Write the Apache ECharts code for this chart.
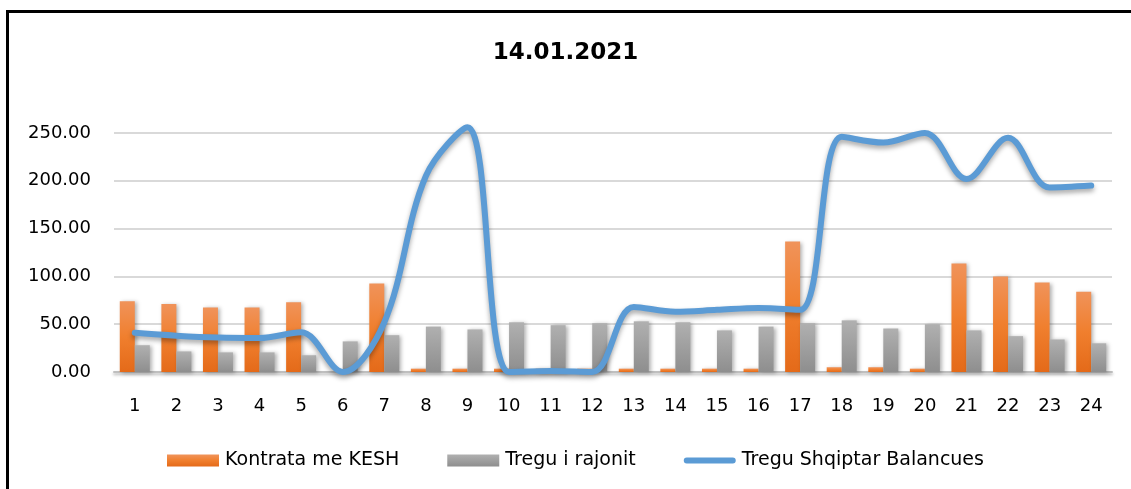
<!DOCTYPE html>
<html>
<head>
<meta charset="utf-8">
<script src="https://cdn.jsdelivr.net/npm/echarts@6/dist/echarts.min.js"></script>
<style>
html,body{margin:0;padding:0;background:#fff;}
#c{width:1131px;height:489px;}
</style>
</head>
<body>
<div id="c"></div>
<script>
var titleText = '14.01.2021';
var categories = ['1','2','3','4','5','6','7','8','9','10','11','12','13','14','15','16','17','18','19','20','21','22','23','24'];
var yTicks = [0, 50, 100, 150, 200, 250];
var seriesNames = ['Kontrata me KESH', 'Tregu i rajonit', 'Tregu Shqiptar Balancues'];
var kontrataKesh = [74, 71, 67.5, 67.5, 73, 0, 92.5, 3.5, 3.5, 3.5, 3.5, 3.5, 3.5, 3.5, 3.5, 3.5, 136.5, 5, 5, 3.5, 113.5, 100, 93.5, 84];
var treguRajonit = [28, 21.5, 20.5, 20.5, 17.5, 32, 38.5, 47.5, 44.5, 52, 49, 51, 53, 52, 43.5, 47.5, 51, 54, 45.5, 50, 43.5, 37.5, 34, 30];
var treguBalancues = [41, 38, 36, 35.5, 41.5, 0, 52, 205, 256, 0, 1, 0, 68, 63, 65, 67, 65, 246, 240, 250, 202, 245, 193, 195];

var chart = echarts.init(document.getElementById('c'), null, {renderer: 'canvas'});
var fontFam = 'DejaVu Sans';
var orangeGrad = new echarts.graphic.LinearGradient(0, 0, 0, 1, [
  {offset: 0, color: '#F0935A'}, {offset: 0.5, color: '#F07F2E'}, {offset: 1, color: '#E46A19'}
]);
var grayGrad = new echarts.graphic.LinearGradient(0, 0, 0, 1, [
  {offset: 0, color: '#B0B0B0'}, {offset: 1, color: '#8E8E8E'}
]);
var lineIcon = 'path://M0,0 L0.01,0 M3,3 L49,3 A3,3 0 0 1 49,9 L3,9 A3,3 0 0 1 3,3 Z M0,12 L0.01,12';

chart.setOption({
  animation: false,
  backgroundColor: '#fff',
  title: {
    text: titleText,
    left: 'center',
    top: 37,
    textStyle: {fontFamily: fontFam, fontWeight: 'bold', fontSize: 23, color: '#000'}
  },
  graphic: [{
    type: 'rect',
    shape: {x: 7.5, y: 11.5, width: 1140, height: 490},
    style: {fill: 'none', stroke: '#000', lineWidth: 3},
    silent: true
  }],
  legend: {
    left: 162,
    top: 446,
    itemWidth: 52,
    itemHeight: 12,
    itemGap: 48,
    textStyle: {fontFamily: fontFam, fontSize: 19, color: '#000', padding: [0, 0, 0, 1]},
    data: [
      {name: seriesNames[0], icon: 'rect'},
      {name: seriesNames[1], icon: 'rect'},
      {name: seriesNames[2], icon: lineIcon, itemStyle: {color: '#5B9BD5'}}
    ]
  },
  grid: {left: 114, right: 19, top: 133, bottom: 117, containLabel: false},
  xAxis: {
    type: 'category',
    data: categories,
    axisLine: {show: true, lineStyle: {color: '#BFBFBF', width: 2, shadowColor: 'rgba(0,0,0,0.3)', shadowBlur: 3, shadowOffsetY: 2}},
    axisTick: {show: false},
    axisLabel: {fontFamily: fontFam, fontSize: 18, color: '#000', margin: 25}
  },
  yAxis: {
    type: 'value',
    min: 0,
    max: 250,
    interval: 50,
    axisLine: {show: false},
    axisTick: {show: false},
    splitLine: {lineStyle: {color: '#D9D9D9', width: 2}},
    axisLabel: {
      fontFamily: fontFam, fontSize: 18, color: '#000', margin: 23,
      formatter: function (v) { return yTicks.indexOf(v) >= 0 ? v.toFixed(2) : ''; }
    }
  },
  series: [
    {
      name: seriesNames[0],
      type: 'bar',
      data: kontrataKesh,
      barWidth: 15,
      barGap: '0%',
      itemStyle: {color: orangeGrad, shadowColor: 'rgba(0,0,0,0.3)', shadowBlur: 4, shadowOffsetX: 2, shadowOffsetY: 1}
    },
    {
      name: seriesNames[1],
      type: 'bar',
      data: treguRajonit,
      barWidth: 15,
      barGap: '0%',
      itemStyle: {color: grayGrad, shadowColor: 'rgba(0,0,0,0.3)', shadowBlur: 4, shadowOffsetX: 2, shadowOffsetY: 1}
    },
    {
      name: seriesNames[2],
      type: 'line',
      data: treguBalancues,
      smooth: 0.35,
      clip: false,
      symbol: 'none',
      showSymbol: false,
      z: 5,
      itemStyle: {color: '#5B9BD5'},
      lineStyle: {color: '#5B9BD5', width: 6, cap: 'round', join: 'round', shadowColor: 'rgba(0,0,0,0.35)', shadowBlur: 5, shadowOffsetY: 3}
    }
  ]
});
</script>
</body>
</html>
